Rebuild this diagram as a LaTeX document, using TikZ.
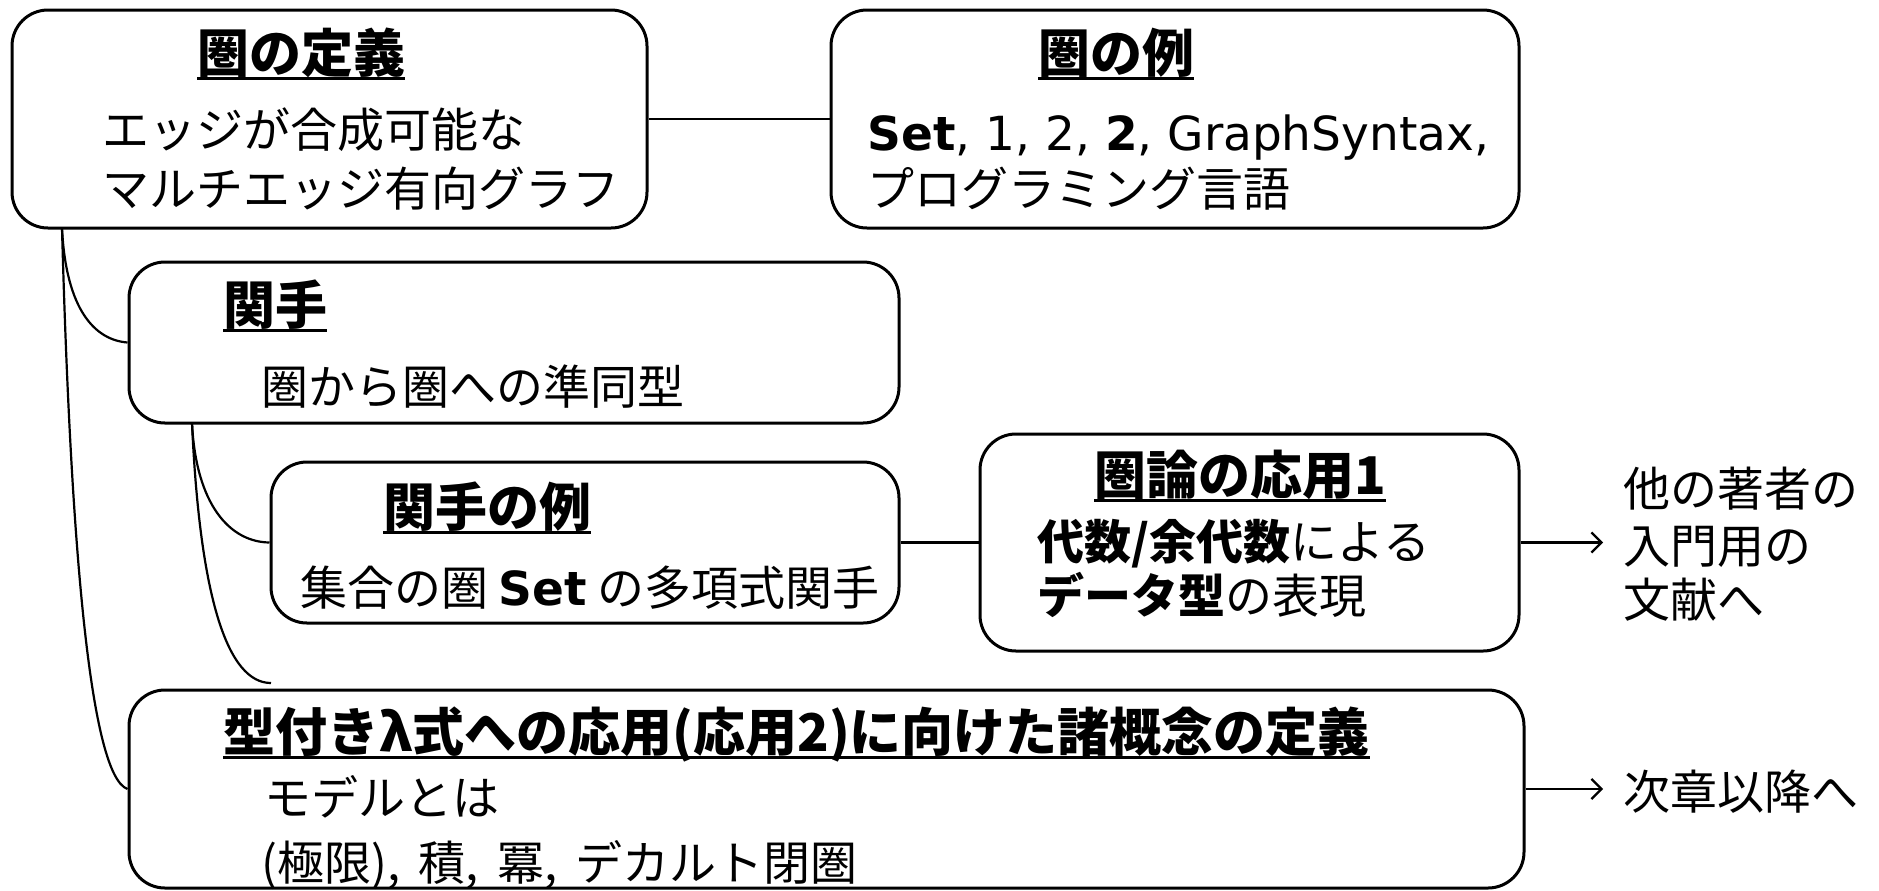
\documentclass[tikz,border=0pt]{standalone}
\usepackage{fontspec}
\setmainfont{Noto Sans CJK JP}
\newfontfamily\dv{DejaVu Sans}
\usetikzlibrary{arrows.meta}
\newsavebox\ulbox
\newcommand\ulttl[1]{\sbox\ulbox{#1}\rlap{\rule[-4pt]{\wd\ulbox}{1.4pt}}\usebox\ulbox}
\tikzset{
  box/.style={draw, line width=1.5pt, rounded corners=18pt, inner sep=0pt},
  ttl/.style={font=\fontsize{26}{30}\selectfont\bfseries, inner sep=0pt, anchor=base},
  ttlw/.style={ttl, anchor=base west},
  body/.style={font=\fontsize{23.5}{28}\selectfont, inner sep=0pt, anchor=base west},
  link/.style={line width=1.1pt},
  arr/.style={line width=1.1pt, -{Straight Barb[length=5pt,width=10pt]}}
}
\begin{document}
\begin{tikzpicture}[x=0.5pt,y=-0.5pt]
\useasboundingbox[fill=white] (0,0) rectangle (1879,890);
% boxes
\node[box, minimum width=317.5pt, minimum height=109pt] (A) at (329.5,119) {};
\node[box, minimum width=344pt, minimum height=109pt] (B) at (1175,119) {};
\node[box, minimum width=385pt, minimum height=80.5pt] (C) at (514,342.5) {};
\node[box, minimum width=314pt, minimum height=80.5pt] (D) at (585,542.5) {};
\node[box, minimum width=269.5pt, minimum height=108.5pt] (E) at (1249.5,542.5) {};
\node[box, minimum width=697.5pt, minimum height=99pt] (F) at (826.5,789) {};
% box A
\node[ttl] (A0) at (301,72) {\ulttl{圏の定義}};
\node[body] (A1) at (102,147) {エッジが合成可能な};
\node[body] (A2) at (102,206) {マルチエッジ有向グラフ};
% box B
\node[ttl] (B0) at (1116,72) {\ulttl{圏の例}};
\node[body] (B1) at (867,150) {{\dv\textbf{Set}, 1, 2, \textbf{2}, GraphSyntax,}};
\node[body] (B2) at (867,206) {プログラミング言語};
% box C
\node[ttlw] (C0) at (223,324) {\ulttl{関手}};
\node[body] (C1) at (261,404) {圏から圏への準同型};
% box D
\node[ttlw] (D0) at (383,526) {\ulttl{関手の例}};
\node[body] (D1) at (300,605) {集合の圏 {\dv\bfseries Set} の多項式関手};
% box E
\node[ttl] (E0) at (1240,494) {\ulttl{圏論の応用1}};
\node[body] (E1) at (1037,559) {\textbf{代数/余代数}による};
\node[body] (E2) at (1037,613) {\textbf{データ型}の表現};
% box F
\node[ttlw] (F0) at (223,751) {\ulttl{型付きλ式への応用(応用2)に向けた諸概念の定義}};
\node[body] (F1) at (264,815) {モデルとは};
\node[body] (F2) at (261,880) {(極限),\, 積,\, 冪,\, デカルト閉圏};
% right texts
\node[body] (R1) at (1623,506) {他の著者の};
\node[body] (R2) at (1623,563) {入門用の};
\node[body] (R3) at (1623,617) {文献へ};
\node[body] (R4) at (1623,809) {次章以降へ};
\coordinate (eR) at (1603,542.5);
\coordinate (fR) at (1603,789);
% connectors
\coordinate (aJ) at (62,228);
\coordinate (cJ) at (192,423);
\coordinate (fD) at (271,683);
\draw[link] (A.east) -- (B.west);
\draw[link] (aJ) .. controls (66,310) and (95,340) .. (C.west);
\draw[link] (aJ) .. controls (70,520) and (88,775) .. (F.west);
\draw[link] (cJ) .. controls (196,505) and (230,542) .. (D.west);
\draw[link] (cJ) .. controls (200,600) and (228,683) .. (fD);
\draw[link] (D.east) -- (E.west);
\draw[arr] (E.east) -- (eR);
\draw[arr] (F.east) -- (fR);
\end{tikzpicture}
\end{document}
